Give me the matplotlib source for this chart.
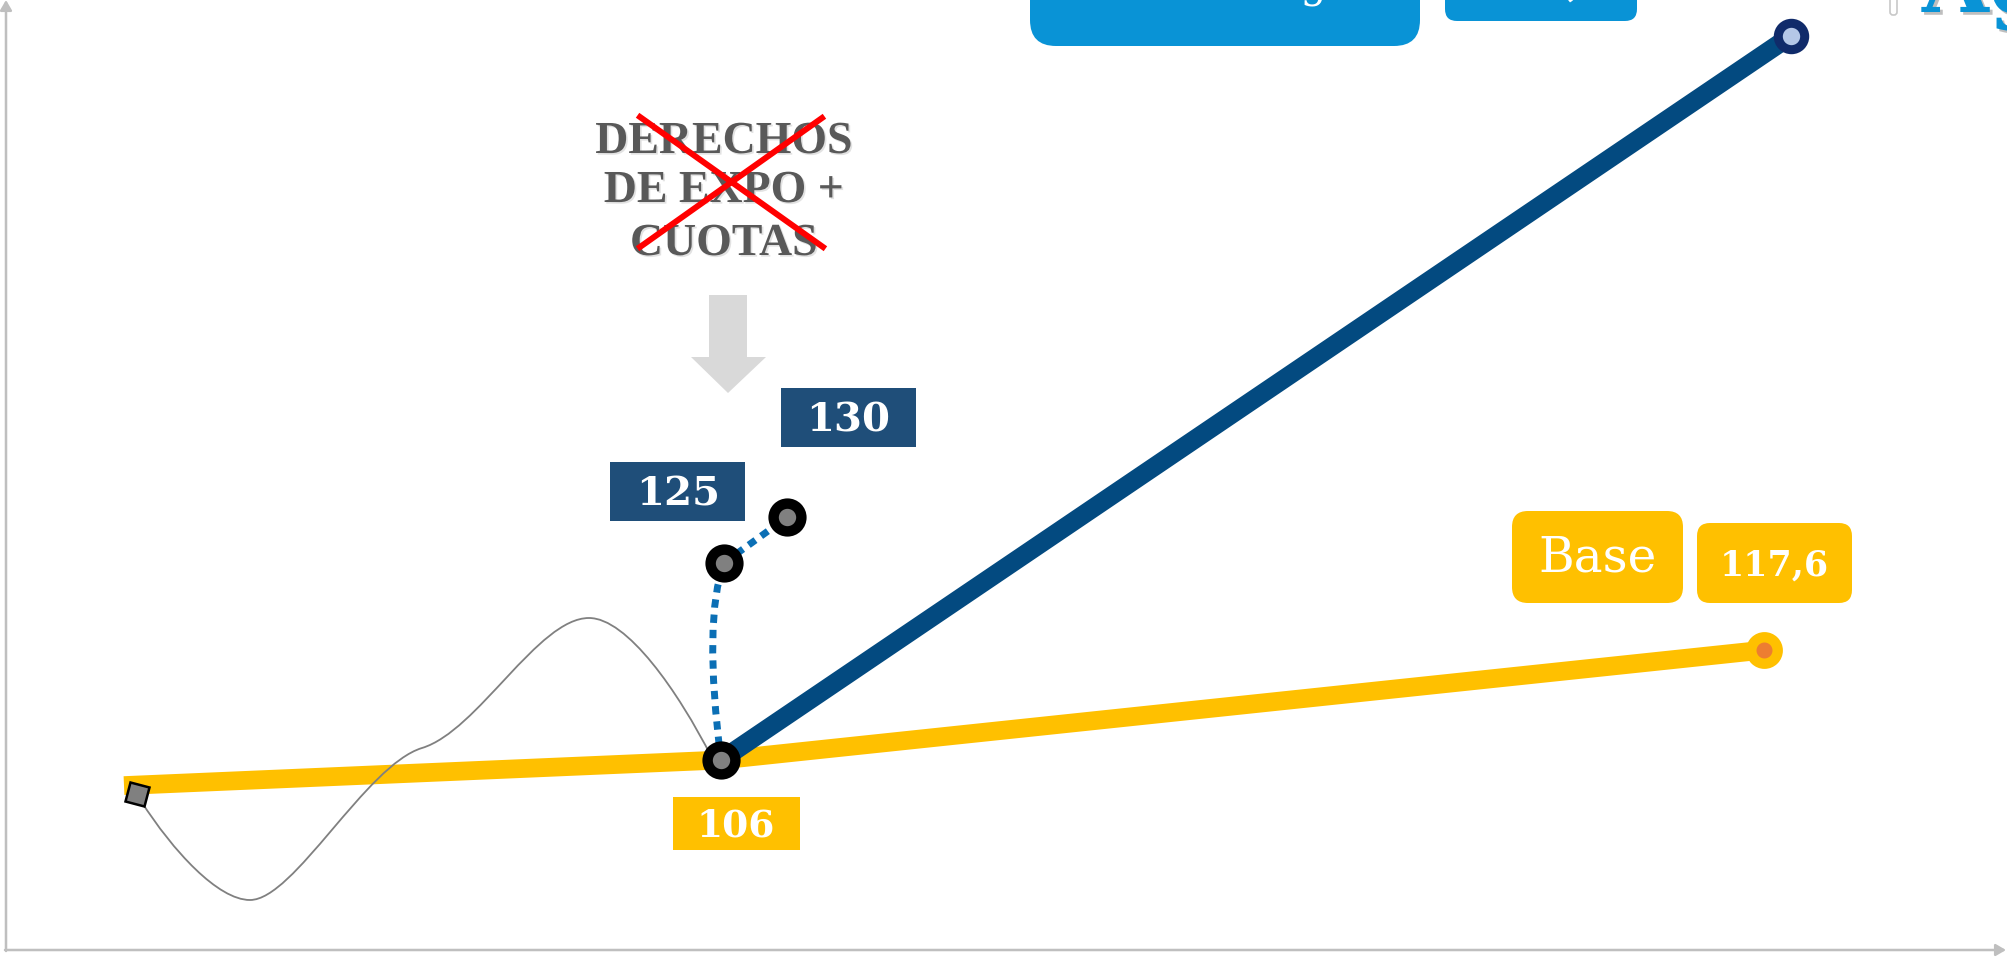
import matplotlib
matplotlib.use('Agg')
import matplotlib.pyplot as plt
import matplotlib.patheffects as pe
from matplotlib.patches import FancyBboxPatch, Polygon, PathPatch
from matplotlib.path import Path
from matplotlib.transforms import Affine2D
from matplotlib.markers import MarkerStyle

# periods (x) and index values (y)
base_x = [1.24, 7.21, 17.64]
base_y = [103.3, 106.0, 117.6]
high_x = [7.21, 17.91]
high_y = [106.0, 182.4]
alt_x = [7.21, 7.24, 7.87]
alt_y = [106.0, 126.8, 131.6]
start_x, start_y = 1.37, 102.4

lbl_start = '106'
lbl_alt = ['125', '130']
lbl_base = ['Base', '117,6']
lbl_top = ['Tendencia larga', '141,7', 'Agresivo']
crossed = ['DERECHOS', 'DE EXPO +', 'CUOTAS']

W, H = 2007, 957
fig = plt.figure(figsize=(W / 100, H / 100), dpi=100)
ax = fig.add_axes([0, 0, 1, 1])
ax.set_xlim(0, 20.07)
ax.set_ylim(85.22, 186.17)
ax.axis('off')

# pixel transform for the slide decorations (origin top-left)
PX = Affine2D().scale(1 / W, -1 / H).translate(0, 1) + fig.transFigure

YEL = '#FFC000'
NAVY = '#1F4E79'
SKY = '#0993D6'
SERIF = 'DejaVu Serif'

# axes with arrows
arrow = dict(arrowstyle='-|>,head_length=0.6,head_width=0.35', color='#BFBFBF',
             lw=1.8, shrinkA=0, shrinkB=0)
ax.annotate('', xy=(6, 0), xytext=(6, 951), xycoords=PX, textcoords=PX, arrowprops=arrow)
ax.annotate('', xy=(2006, 950), xytext=(5, 950), xycoords=PX, textcoords=PX, arrowprops=arrow)

# lines
ax.plot(base_x, base_y, color=YEL, lw=13.5, solid_capstyle='butt', zorder=2)
ax.plot(high_x, high_y, color='#034A80', lw=13.5, solid_capstyle='butt', zorder=3)

verts = [(alt_x[0], alt_y[0]), (7.03, 120.8), (alt_x[1], alt_y[1]), (alt_x[2], alt_y[2])]
codes = [Path.MOVETO, Path.CURVE3, Path.CURVE3, Path.LINETO]
ax.add_patch(PathPatch(Path(verts, codes), fill=False, ec='#0B6FB5', lw=5,
                       linestyle=(0, (1.2, 1.0)), capstyle='butt', zorder=4))

# hand-drawn squiggle
sq = [(141, 801), (173, 851), (218, 900), (250, 900), (294, 900), (366, 765), (422, 748),
      (478, 731), (538, 618), (589, 618), (627, 618), (678, 691), (712, 758)]
sq_codes = [Path.MOVETO] + [Path.CURVE4] * (len(sq) - 1)
ax.add_patch(PathPatch(Path(sq, sq_codes), fill=False, ec='#808080', lw=1.3,
                       transform=PX, clip_on=False, zorder=5))

# markers
ax.plot(alt_x, alt_y, 'o', ls='none', ms=20, mfc='#808080', mec='black', mew=7.5, zorder=6)
ax.plot(high_x[-1], high_y[-1], 'o', ms=19, mfc='#B4C7E7', mec='#102B6A', mew=6.5, zorder=6)
ax.plot(base_x[-1], base_y[-1], 'o', ms=19, mfc='#ED7D31', mec=YEL, mew=7.5, zorder=6)
ax.plot(start_x, start_y, ls='none', marker=MarkerStyle('s', transform=Affine2D().rotate_deg(-15)),
        ms=14, mfc='#808080', mec='black', mew=1.8, zorder=6)


def box(x0, y0, x1, y1, color, r=0):
    style = 'round,pad=0,rounding_size=%d' % r if r else 'square,pad=0'
    ax.add_patch(FancyBboxPatch((x0, y0), x1 - x0, y1 - y0, boxstyle=style, fc=color, ec='none',
                                transform=PX, clip_on=False, zorder=7))


def label(x, y, s, size, weight='bold', color='white', **kw):
    ax.text(x, y, s, transform=PX, fontsize=size, fontweight=weight, color=color,
            family=SERIF, ha='center', va='center', zorder=8, **kw)


box(673, 797, 800, 850, YEL)
label(736, 826, lbl_start, 27)
box(610, 462, 745, 521, NAVY)
label(678, 494, lbl_alt[0], 29)
box(781, 388, 916, 447, NAVY)
label(848, 420, lbl_alt[1], 29)
box(1512, 511, 1683, 603, YEL, 16)
label(1598, 558, lbl_base[0], 35, weight='normal')
box(1697, 523, 1852, 603, YEL, 13)
label(1774, 566, lbl_base[1], 25)

# boxes cut by the top edge
box(1030, -60, 1420, 46, SKY, 26)
ax.text(1352, -4, lbl_top[0], transform=PX, fontsize=30, color='white', family=SERIF,
        ha='right', va='baseline', zorder=8)
box(1445, -40, 1637, 21, SKY, 12)
ax.text(1606, -3, lbl_top[1], transform=PX, fontsize=26, fontweight='bold', color='white',
        family=SERIF, ha='right', va='baseline', zorder=8)
ax.add_patch(FancyBboxPatch((1890, -10), 7, 25, boxstyle='round,pad=0,rounding_size=3',
                            fc='none', ec='#C8C8C8', lw=1.2, transform=PX, clip_on=False))
ax.text(1922, 12, lbl_top[2], transform=PX, fontsize=62, fontweight='bold', color=SKY,
        family=SERIF, ha='left', va='baseline', zorder=8,
        path_effects=[pe.withSimplePatchShadow(offset=(2, -2), shadow_rgbFace='#7F7F7F', alpha=0.5)])

# crossed-out note with arrow
shadow = [pe.withSimplePatchShadow(offset=(1.2, -1.2), shadow_rgbFace='#D0D0D0', alpha=0.6)]
for s, yb in zip(crossed, [153, 202, 255]):
    ax.text(724, yb, s, transform=PX, fontsize=33, fontweight='bold', color='#595959',
            family='Liberation Serif', ha='center', va='baseline', zorder=8, path_effects=shadow)
ax.plot([640, 823], [117, 247], color='#FF0000', lw=4.3, transform=PX, clip_on=False, zorder=9)
ax.plot([822, 640], [118, 247], color='#FF0000', lw=4.3, transform=PX, clip_on=False, zorder=9)
ax.add_patch(Polygon([(709, 295), (747, 295), (747, 357), (766, 357), (728, 393),
                      (691, 357), (709, 357)], closed=True, fc='#D9D9D9', ec='none',
                     transform=PX, clip_on=False, zorder=7))

fig.savefig('out.png', dpi=100)
